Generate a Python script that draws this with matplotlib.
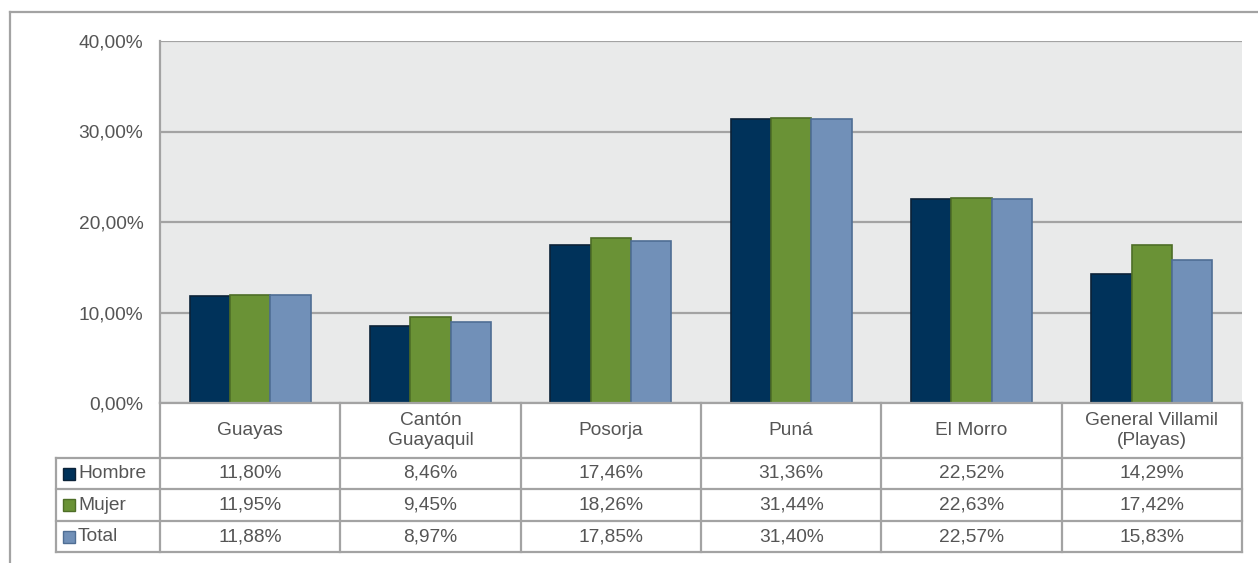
import numpy as np
import matplotlib.pyplot as plt
from matplotlib.patches import Rectangle
from matplotlib.lines import Line2D

# Data
categories = ["Guayas", "Cantón\nGuayaquil", "Posorja", "Puná", "El Morro", "General Villamil\n(Playas)"]
series_names = ["Hombre", "Mujer", "Total"]
hombre = [11.80, 8.46, 17.46, 31.36, 22.52, 14.29]
mujer = [11.95, 9.45, 18.26, 31.44, 22.63, 17.42]
total = [11.88, 8.97, 17.85, 31.40, 22.57, 15.83]
yticks = [0, 10, 20, 30, 40]

colors = ["#00325A", "#6A9236", "#7190B8"]
edges = ["#0B2238", "#4E6E27", "#4F6E94"]
grid_c = "#A3A3A3"
text_c = "#555555"
fs = 13.8

plt.rcParams['font.family'] = ['Liberation Sans', 'DejaVu Sans']

W, H = 1258, 563
fig = plt.figure(figsize=(W / 100, H / 100), dpi=100)

def fx(px):
    return px / W

def fy(py):
    return 1 - py / H

# plot area in pixels
left, right, top, bottom = 160, 1242, 41, 403
ax = fig.add_axes([fx(left), fy(bottom), fx(right) - fx(left), fy(top) - fy(bottom)])
ax.set_facecolor("#E9EAEA")
ax.set_xlim(-0.5, len(categories) - 0.5)
ax.set_ylim(0, 40)
ax.set_yticks(yticks)
ax.set_yticklabels([f"{v:.2f}%".replace(".", ",") for v in yticks], fontsize=fs, color=text_c)
ax.tick_params(axis="y", length=0, pad=12)
ax.set_xticks([])
ax.yaxis.grid(True, color=grid_c, lw=1.6)
ax.set_axisbelow(True)
for s in ["top", "right", "bottom"]:
    ax.spines[s].set_visible(False)
ax.spines["left"].set_color(grid_c)
ax.spines["left"].set_linewidth(1.6)

x = np.arange(len(categories))
bw = 0.224
for i, vals in enumerate([hombre, mujer, total]):
    ax.bar(x + (i - 1) * bw, vals, bw, color=colors[i], edgecolor=edges[i], lw=1.2, zorder=3)

# outer frame
fig.add_artist(Line2D([fx(10), fx(1258)], [fy(12), fy(12)], color=grid_c, lw=1.6))
fig.add_artist(Line2D([fx(10), fx(10)], [fy(12), fy(563)], color=grid_c, lw=1.6))

# data table
col_w = (right - left) / len(categories)
row_y = [403, 458, 489, 521, 552]
lab_left = 56

def hline(y, x0, x1):
    fig.add_artist(Line2D([fx(x0), fx(x1)], [fy(y), fy(y)], color=grid_c, lw=1.6))

def vline(xp, y0, y1):
    fig.add_artist(Line2D([fx(xp), fx(xp)], [fy(y0), fy(y1)], color=grid_c, lw=1.6))

hline(row_y[0], left, right)
for y in row_y[1:]:
    hline(y, lab_left, right)
vline(lab_left, row_y[1], row_y[-1])
for j in range(len(categories) + 1):
    vline(left + j * col_w, row_y[0], row_y[-1])

for j, cat in enumerate(categories):
    cx = left + (j + 0.5) * col_w
    fig.text(fx(cx), fy((row_y[0] + row_y[1]) / 2), cat, ha="center", va="center",
             fontsize=fs, color=text_c, linespacing=1.3)

for i, (name, vals) in enumerate(zip(series_names, [hombre, mujer, total])):
    cy = (row_y[i + 1] + row_y[i + 2]) / 2
    fig.add_artist(Rectangle((fx(63), fy(cy + 6)), fx(12), 12 / H, facecolor=colors[i],
                             edgecolor=edges[i], lw=1.0, transform=fig.transFigure))
    fig.text(fx(78), fy(cy), name, ha="left", va="center", fontsize=fs, color=text_c)
    for j, v in enumerate(vals):
        cx = left + (j + 0.5) * col_w
        fig.text(fx(cx), fy(cy), f"{v:.2f}%".replace(".", ","), ha="center", va="center",
                 fontsize=fs, color=text_c)

fig.savefig("out.png", dpi=100)
